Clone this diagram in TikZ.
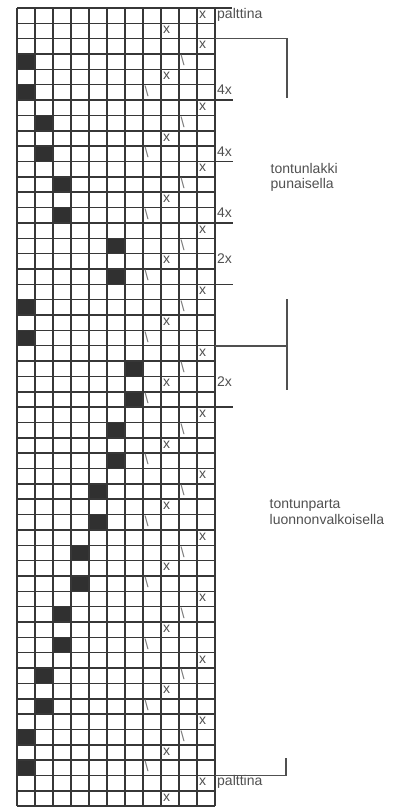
\documentclass[tikz,border=0pt]{standalone}
\usepackage{fontspec}
\setmainfont{Liberation Sans}
\usetikzlibrary{positioning}
\definecolor{GridGray}{RGB}{55,55,55}
\definecolor{MarkGray}{RGB}{80,80,80}
\definecolor{SlantGray}{RGB}{120,120,120}
\definecolor{CellDark}{RGB}{48,48,48}
\newcommand{\cellw}{18}
\newcommand{\cellh}{15.35}
\tikzset{
  chartline/.style={draw=GridGray, line width=1.5pt},
  chartcell/.style={fill=CellDark},
  stitchx/.style={anchor=base west, inner sep=0pt, text=MarkGray,
    font=\fontsize{14}{14}\selectfont},
  stitchslant/.style={anchor=base west, inner sep=0pt, text=SlantGray,
    font=\fontsize{14.5}{15}\selectfont},
  repeatnote/.style={anchor=base west, inner sep=0pt, text=MarkGray,
    font=\fontsize{14}{14}\selectfont},
  bracketline/.style={draw=MarkGray, line width=1.6pt},
  sidenote/.style={anchor=north west, align=left, inner sep=0pt, text=MarkGray,
    font=\fontsize{14}{15.5}\selectfont}
}

\begin{document}
\begin{tikzpicture}[x=1pt, y=-1pt]
  \useasboundingbox (0,0) rectangle (403,810);
  % dark cells
  \foreach \c/\r in {1/4,1/6,2/8,2/10,3/12,3/14,6/16,6/18,1/20,1/22,7/24,7/26,
      6/28,6/30,5/32,5/34,4/36,4/38,3/40,3/42,2/44,2/46,1/48,1/50}
    \fill[chartcell] ({17+(\c-1)*\cellw},{8+(\r-1)*\cellh}) rectangle ++(\cellw,\cellh);
  % grid
  \foreach \c in {0,...,11}
    \draw[chartline] ({17+\c*\cellw},8) -- ({17+\c*\cellw},{8+52*\cellh});
  \foreach \r in {0,...,52}
    \draw[chartline] (17,{8+\r*\cellh}) -- (215,{8+\r*\cellh});
  % stitch marks
  \foreach \c/\r in {11/1,9/2,11/51,9/52}
    \node[stitchx] (x-\c-\r) at ({19+(\c-1)*\cellw},{8+(\r-1)*\cellh+10.3}) {x};
  \foreach \r in {3,7,...,47}
    \node[stitchx] (x-11-\r) at ({19+10*\cellw},{8+(\r-1)*\cellh+10.3}) {x};
  \foreach \r in {5,9,...,49}
    \node[stitchx] (x-9-\r) at ({19+8*\cellw},{8+(\r-1)*\cellh+10.3}) {x};
  \foreach \r in {4,8,...,48}
    \node[stitchslant] (s-10-\r) at ({18.5+9*\cellw},{8+(\r-1)*\cellh+11.8}) {\textbackslash};
  \foreach \r in {6,10,...,50}
    \node[stitchslant] (s-8-\r) at ({18.5+7*\cellw},{8+(\r-1)*\cellh+11.8}) {\textbackslash};
  % repeat tails
  \draw[chartline] (215,8) -- (232,8);
  \foreach \r in {6,10,14,18,26}
    \draw[chartline] (215,{8+\r*\cellh}) -- (233,{8+\r*\cellh});
  \node[repeatnote] (rep6) at (217,{8+5*\cellh+10}) {4x};
  \node[repeatnote] (rep10) at (217,{8+9*\cellh+10}) {4x};
  \node[repeatnote] (rep14) at (217,{8+13*\cellh+10}) {4x};
  \node[repeatnote] (rep17) at (217,{8+16*\cellh+10}) {2x};
  \node[repeatnote] (rep25) at (217,{8+24*\cellh+10}) {2x};
  % brackets
  \draw[bracketline] (215,{8+2*\cellh}) -- (287,{8+2*\cellh}) -- (287,98);
  \draw[bracketline] (287,299) -- (287,390);
  \draw[bracketline] (215,{8+22*\cellh}) -- (287,{8+22*\cellh});
  \draw[bracketline] (215,{8+50*\cellh}) -- (286,{8+50*\cellh}) -- (286,758);
  % labels
  \node[repeatnote] (palttop) at (217,18.3) {palttina};
  \node[repeatnote] (palbot) at (217,{8+50*\cellh+10.3}) {palttina};
  \node[sidenote] (lakki) at (270.5,163) {tontunlakki\\punaisella};
  \node[sidenote] (parta) at (269.5,499.5) {tontunparta\\luonnonvalkoisella};
\end{tikzpicture}
\end{document}
